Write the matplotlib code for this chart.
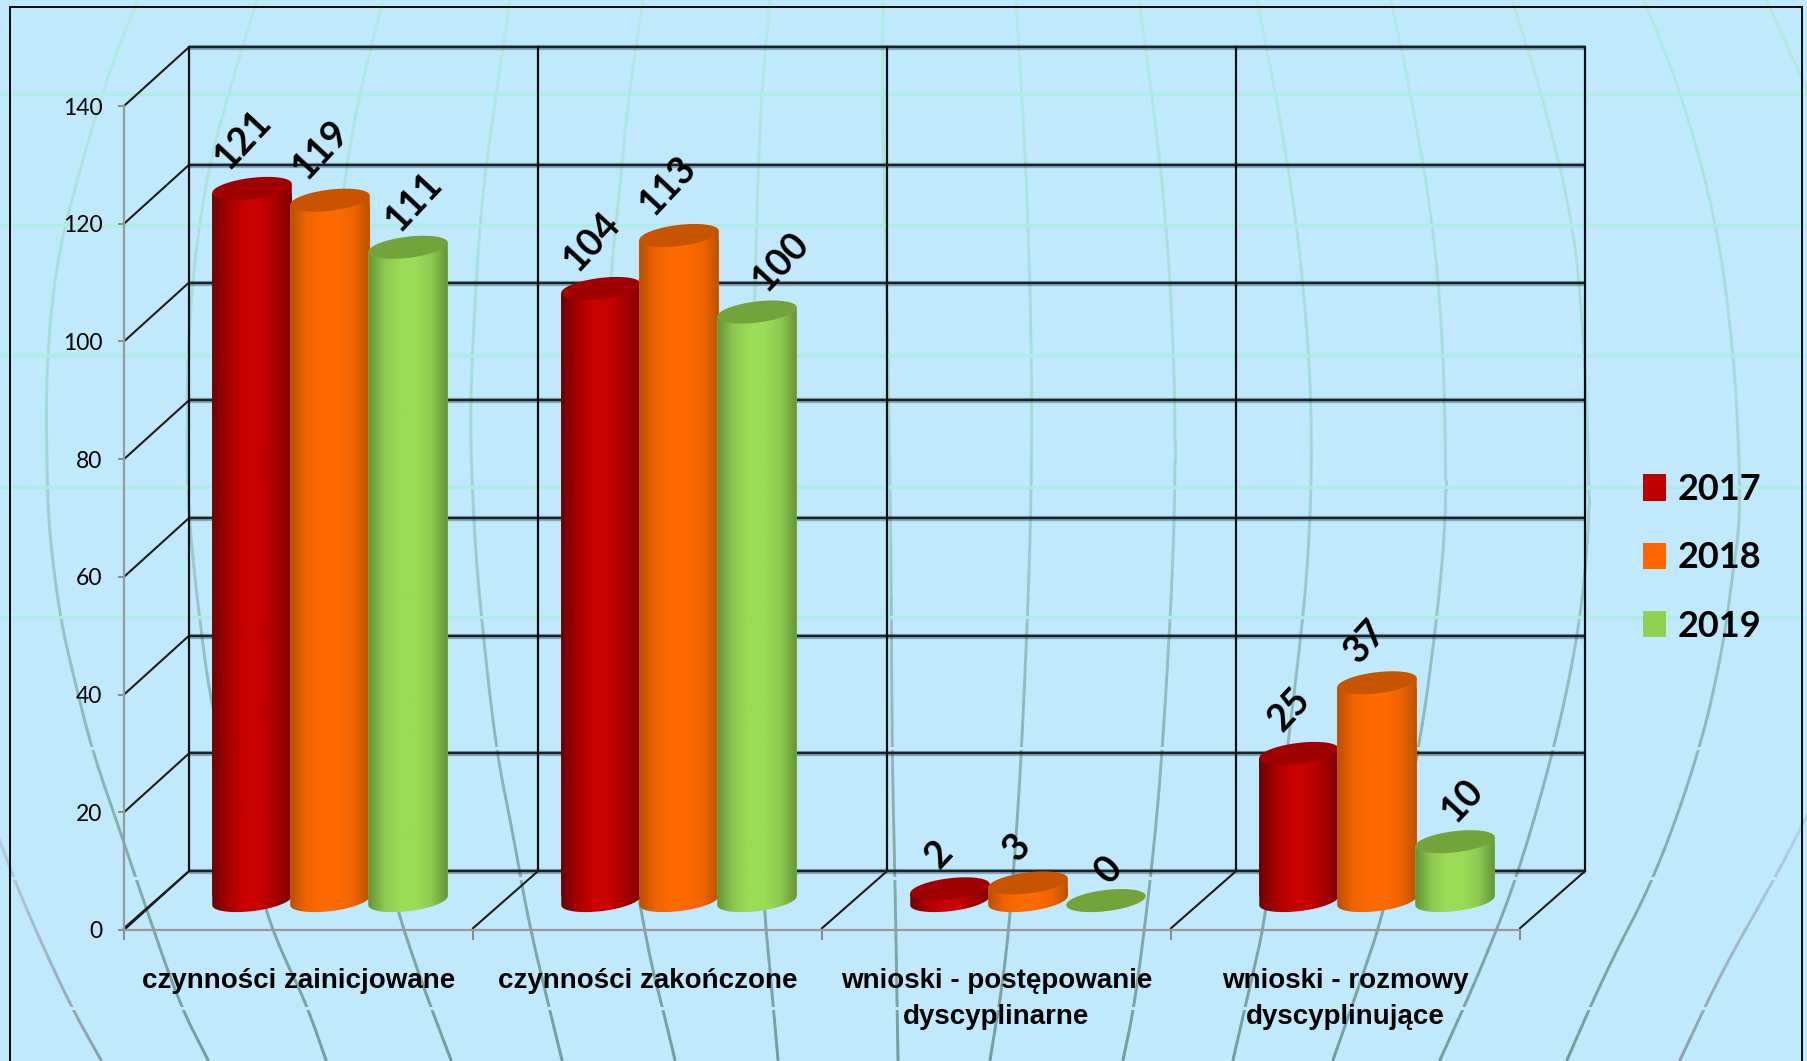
import numpy as np
import matplotlib
matplotlib.use("Agg")
import matplotlib.pyplot as plt
from matplotlib.collections import LineCollection
from matplotlib.colors import LinearSegmentedColormap, to_rgb
from matplotlib.patches import Patch, PathPatch
from matplotlib.path import Path

# ---------- data ----------
categories = ["czynności zainicjowane", "czynności zakończone",
              "wnioski - postępowanie\ndyscyplinarne", "wnioski - rozmowy\ndyscyplinujące"]
years = ["2017", "2018", "2019"]
values_2017 = [121, 104, 2, 25]
values_2018 = [119, 113, 3, 37]
values_2019 = [111, 100, 0, 10]
y_ticks = [0, 20, 40, 60, 80, 100, 120, 140]

# ---------- styles ----------
legend_colors = ["#c00000", "#ff6600", "#92d050"]
side_colors = [["#6e0000", "#a80000", "#c80000", "#c80000", "#a80000", "#7e0000"],
               ["#b85000", "#f06400", "#ff6a00", "#ff6a00", "#f06400", "#b85400"],
               ["#66923a", "#8cc850", "#9cdc56", "#9cdc56", "#8cc850", "#68943a"]]
cap_colors = ["#a00000", "#c85400", "#74a33c"]
label_offsets = [[(-9, 49), (-9, 47), (-11, 34), (-10, 44)],
                 [(-9, 50), (-11, 50), (-11, 35), (-11, 41)],
                 [(6, 46), (24, 50), (2, 30), (7, 41)]]
BG = "#c0e9fe"
W, H = 1808, 1061
DX, DY = 65 / 349, 10.0        # depth of the 3-D box, in data units
BAR_W = 79.5 / 349
BAR_STEP = 78 / 349
BAR_SHIFT = -1 / 349
CAP_B, CAP_S = 1.8, 0.77       # cap half height and tilt, in data units

# background globe (decoration, in figure pixels)
meridians = [
 [(138,0),(110,68),(75,186),(55,270),(46,372),(47,473),(49,530),(60,618),(75,682),(92,750),(121,834),(144,902),(179,1003),(208,1060)],
 [(257,0),(231,85),(208,169),(193,270),(187,372),(187,473),(190,530),(199,615),(213,719),(265,909),(282,953),(306,1003),(326,1060)],
 [(383,0),(360,91),(346,169),(330,300),(327,450),(340,700),(398,912),(415,963),(432,1010),(451,1060)],
 [(510,0),(496,95),(481,203),(473,338),(470,423),(474,530),(481,615),(496,750),(513,834),(528,919),(548,1003),(562,1060)],
 [(643,0),(628,101),(620,186),(611,270),(600,450),(605,700),(640,905),(651,963),(663,1010),(675,1060)],
 [(770,0),(761,95),(755,270),(752,450),(755,700),(764,909),(770,970),(778,1060)],
 [(883,0),(882,101),(887,300),(891,530),(892,750),(895,880),(898,1060)],
 [(1016,0),(1022,95),(1028,216),(1032,372),(1031,530),(1022,746),(1014,868),(1005,969),(990,1060)],
 [(1139,0),(1152,95),(1166,216),(1175,372),(1175,530),(1163,746),(1152,868),(1135,1003),(1123,1060)],
 [(1257,0),(1276,95),(1296,216),(1308,338),(1312,433),(1310,530),(1302,632),(1267,912),(1250,986),(1233,1060)],
 [(1391,0),(1411,95),(1432,216),(1443,338),(1446,473),(1445,530),(1437,618),(1420,746),(1385,909),(1359,986),(1333,1060)],
 [(1512,0),(1541,91),(1573,220),(1584,338),(1589,473),(1589,530),(1579,631),(1555,746),(1518,875),(1481,969),(1440,1060)],
 [(1644,0),(1682,95),(1717,223),(1734,355),(1740,473),(1739,530),(1734,564),(1723,648),(1700,750),(1656,875),(1607,969),(1567,1060)],
 [(1766,0),(1800,74),(1810,95)],
]
pale_meridians = [
 [(1810,810),(1775,878),(1723,969),(1680,1060)],
 [(-2,836),(23,902),(69,1003),(101,1060)],
]
parallels_visible = [93.5, 224.5, 355, 486.5, 617]
parallels_faded = [748, 878, 1008]


def chaikin(pts, n=3):
    p = np.array(pts, float)
    for _ in range(n):
        q = 0.75 * p[:-1] + 0.25 * p[1:]
        r = 0.25 * p[:-1] + 0.75 * p[1:]
        m = np.empty((2 * len(q), 2))
        m[0::2], m[1::2] = q, r
        p = np.vstack([p[0], m, p[-1]])
    return p


def ramp(ys, stops):
    pos = [s[0] for s in stops]
    cols = np.array([to_rgb(s[1]) for s in stops])
    return np.column_stack([np.interp(ys, pos, cols[:, i]) for i in range(3)])


teal = [(0, "#b2ebe0"), (450, "#a2d9d6"), (700, "#8dbcbc"), (1060, "#789c9c")]
pale = [(800, "#bcd8e6"), (1060, "#8c9fab")]

fig = plt.figure(figsize=(W / 100, H / 100), dpi=100, facecolor=BG)

# background layer
bg = fig.add_axes([0, 0, 1, 1], zorder=0)
bg.set_xlim(0, W); bg.set_ylim(H, 0); bg.axis("off")
for group, stops in ((meridians, teal), (pale_meridians, pale)):
    for m in group:
        p = chaikin(m)
        segs = np.stack([p[:-1], p[1:]], axis=1)
        bg.add_collection(LineCollection(segs, colors=ramp((p[:-1, 1] + p[1:, 1]) / 2, stops),
                                         linewidths=2.1, capstyle="round"))
for y in parallels_visible:
    bg.axhline(y, color="#aeece6", lw=2.4)
for y in parallels_faded:
    bg.axhline(y, color=BG, lw=2.2)
# frame
bg.plot([10, 10, 1802, 1802], [H + 5, 7, 7, H + 5], color="#0a0a0a", lw=1.4, solid_joinstyle="miter")

# chart layer
ax = fig.add_axes([124 / W, 1 - 930 / H, (1520 - 124) / W, (930 - 106) / H], zorder=1)
ax.patch.set_visible(False)
ax.set_autoscale_on(False)
n = len(categories)
ax.set_xlim(0, n); ax.set_ylim(0, 140)

for s in ("top", "right"):
    ax.spines[s].set_visible(False)
for s in ("left", "bottom"):
    ax.spines[s].set_color("#9a9a9a"); ax.spines[s].set_linewidth(1.6)
ax.set_yticks(y_ticks)
ax.set_yticklabels([str(v) for v in y_ticks], fontfamily="Lato", fontsize=16.5, color="black")
ax.tick_params(axis="y", length=4, width=1.4, color="#8a8a8a", pad=11.5)
ax.set_xticks(np.arange(n + 1))
ax.set_xticklabels([])
ax.tick_params(axis="x", which="major", length=7, width=1.4, color="#8a8a8a")
ax.set_xticks(np.arange(n) + 0.5, minor=True)
ax.set_xticklabels(categories, minor=True, fontfamily="Liberation Sans",
                   fontweight="bold", fontsize=20, linespacing=1.5, color="black")
ax.tick_params(axis="x", which="minor", length=0, pad=27.5)

# back wall grid, side wall and floor
for v in y_ticks:
    ax.plot([DX, n + DX], [v + DY] * 2, color="#000000", alpha=0.28, lw=3.8, clip_on=False, zorder=1,
            solid_capstyle="butt")
    ax.plot([DX, n + DX], [v + DY] * 2, color="#15232a", lw=1.7, clip_on=False, zorder=1.1,
            solid_capstyle="butt")
    ax.plot([0, DX], [v, v + DY], color="#1c1c1c", lw=1.5, clip_on=False, zorder=1.1)
for c in range(n + 1):
    ax.plot([c + DX] * 2, [DY, 140 + DY], color="#101010", lw=1.6, clip_on=False, zorder=1.2)
    ax.plot([c, c + DX], [0.3, DY], color="#1c1c1c", lw=1.5, clip_on=False, zorder=1.2)

# cylinders
series = [values_2017, values_2018, values_2019]
base = DY / 2
for si, vals in enumerate(series):
    cmap = LinearSegmentedColormap.from_list(f"s{si}", side_colors[si])
    xs = np.arange(n) + 0.5 + DX / 2 + BAR_SHIFT + (si - 1) * BAR_STEP
    z = 3 + si
    bars = ax.bar(xs, [max(v - 2 * CAP_S, 0) for v in vals], BAR_W,
                  bottom=base + CAP_S, color=side_colors[si][2], linewidth=0, zorder=z)
    for cx, v, rect in zip(xs, vals, bars):
        a = BAR_W / 2
        t = np.linspace(np.pi, 2 * np.pi, 60)
        if v > 0:
            lx = cx + a * np.cos(t)
            ly = base + CAP_S * np.cos(t) + CAP_B * np.sin(t)
            verts = list(zip(lx, ly)) + [(cx + a, base + v + CAP_S), (cx - a, base + v - CAP_S), (lx[0], ly[0])]
            patch = PathPatch(Path(verts), transform=ax.transData, fc="none", ec="none")
            ax.add_patch(patch)
            im = ax.imshow(np.linspace(0, 1, 128)[None, :], cmap=cmap, aspect="auto",
                           extent=[cx - a, cx + a, base - CAP_B - 1, base + v + CAP_B + 1],
                           zorder=z, interpolation="bilinear")
            im.set_clip_path(patch)
        tt = np.linspace(0, 2 * np.pi, 120)
        ax.fill(cx + a * np.cos(tt), base + v + CAP_S * np.cos(tt) + CAP_B * np.sin(tt),
                color=cap_colors[si], lw=0, zorder=z, clip_on=False)
    for i, (cx, v) in enumerate(zip(xs, vals)):
        ax.annotate(str(v), (cx, base + v), xytext=label_offsets[si][i], textcoords="offset pixels",
                    rotation=47, rotation_mode="anchor", ha="center", va="center",
                    fontfamily="Lato", fontweight="bold", fontsize=27, color="black",
                    annotation_clip=False, zorder=10)
ax.set_xlim(0, n); ax.set_ylim(0, 140)

handles = [Patch(color=c, lw=0) for c in legend_colors]
leg = fig.legend(handles, years, loc="upper left", bbox_to_anchor=(1643 / W, 1 - 473 / H),
                 frameon=False, borderpad=0, borderaxespad=0, handlelength=0.64, handleheight=0.75,
                 handletextpad=0.33, labelspacing=0.98, prop={"family": "Lato", "weight": "bold", "size": 26})
for t in leg.get_texts():
    t.set_color("black")

fig.savefig("out.png", dpi=100, facecolor=BG)
